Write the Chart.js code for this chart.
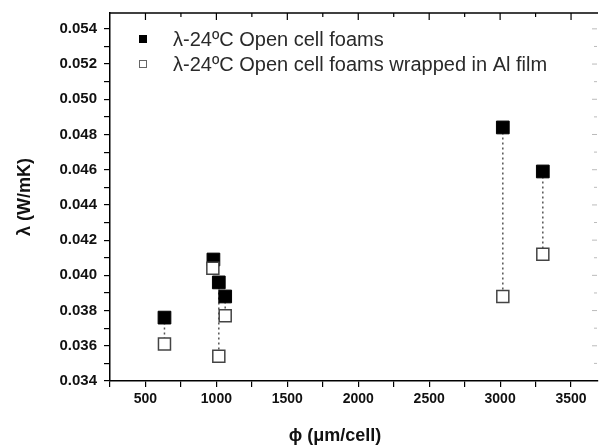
<!DOCTYPE html>
<html>
<head>
<meta charset="utf-8">
<script src="https://cdn.jsdelivr.net/npm/chart.js@4"></script>
<style>
  html, body { margin: 0; padding: 0; background: #fff; }
  #wrap { width: 599px; height: 448px; }
</style>
</head>
<body>
<div id="wrap"><canvas id="foamChart" width="599" height="448"></canvas></div>
<script>
// cell size (um/cell) and conductivity (W/mK)
const openX = [634, 979, 1017, 1062, 3019, 3301];
const openY = [0.0376, 0.0409, 0.0396, 0.0388, 0.0484, 0.0459];
const wrappedX = [634, 975, 1017, 1062, 3019, 3301];
const wrappedY = [0.0361, 0.0404, 0.0354, 0.0377, 0.0388, 0.0412];
// which pairs get the dotted link between them
const linkedPairs = [0, 2, 3, 4, 5];

const seriesNames = ['\u03bb-24\u00baC Open cell foams', '\u03bb-24\u00baC Open cell foams wrapped in Al film'];
const xTitle = '\u03d5 (\u03bcm/cell)';
const yTitle = '\u03bb (W/mK)';

const font = 'Liberation Sans, Arial, sans-serif';

const datasets = [
    {
        label: seriesNames[1],
        data: wrappedX.map((x, i) => ({ x: x, y: wrappedY[i] })),
        showLine: false,
        pointStyle: 'rect',
        pointRadius: 8.5,
        pointBackgroundColor: '#fff',
        pointBorderColor: '#444',
        pointBorderWidth: 1.5,
        order: 0
    },
    {
        label: seriesNames[0],
        data: openX.map((x, i) => ({ x: x, y: openY[i] })),
        showLine: false,
        pointStyle: 'rect',
        pointRadius: 9,
        pointBackgroundColor: '#000',
        pointBorderColor: '#000',
        pointBorderWidth: 1,
        order: 1
    }
];
linkedPairs.forEach(i => {
    datasets.push({
        label: 'link',
        data: [{ x: openX[i], y: openY[i] }, { x: openX[i], y: wrappedY[i] }],
        showLine: true,
        borderColor: '#555',
        borderWidth: 1.5,
        borderDash: [2, 3],
        pointRadius: 0,
        order: 2
    });
});

// frame on top/right, legend and x title
const framePlugin = {
    id: 'frame',
    afterDraw(chart) {
        const ctx = chart.ctx;
        const a = chart.chartArea;
        const xs = chart.scales.x;
        const ys = chart.scales.y;
        ctx.save();
        ctx.strokeStyle = '#000';
        ctx.lineWidth = 1.5;
        ctx.beginPath();
        ctx.moveTo(a.left, a.top);
        ctx.lineTo(a.right, a.top);
        ctx.stroke();
        ctx.lineWidth = 1.2;
        for (let v = 500; v <= 3500; v += 250) {
            const px = xs.getPixelForValue(v);
            ctx.beginPath();
            ctx.moveTo(px, a.top);
            ctx.lineTo(px, a.top + (v % 500 === 0 ? 7 : 4));
            ctx.stroke();
        }
        // faint right axis ticks
        ctx.strokeStyle = '#bbb';
        ctx.lineWidth = 1;
        for (let k = 35; k <= 54; k++) {
            const py = ys.getPixelForValue(k / 1000);
            ctx.beginPath();
            ctx.moveTo(a.right - 1, py);
            ctx.lineTo(a.right - 1 - (k % 2 === 0 ? 5 : 3), py);
            ctx.stroke();
        }

        // legend
        const lx = a.left + 33, ly = [39, 64];
        ctx.fillStyle = '#000';
        ctx.fillRect(lx - 4, ly[0] - 4, 8, 8);
        ctx.fillStyle = '#fff';
        ctx.strokeStyle = '#666';
        ctx.lineWidth = 1;
        ctx.fillRect(lx - 4, ly[1] - 4, 8, 8);
        ctx.strokeRect(lx - 3.5, ly[1] - 3.5, 7, 7);
        ctx.font = '20px ' + font;
        ctx.textBaseline = 'middle';
        ctx.fillStyle = '#2a2a2a';
        ctx.textAlign = 'left';
        ctx.fillText(seriesNames[0], 173, ly[0] + 1);
        ctx.fillText(seriesNames[1], 173, ly[1] + 1);

        // x axis title
        ctx.font = 'bold 18px ' + font;
        ctx.textAlign = 'center';
        ctx.fillStyle = '#111';
        ctx.fillText(xTitle, 335, 436);
        ctx.restore();
    }
};

const chart = new Chart(document.getElementById('foamChart').getContext('2d'), {
    type: 'scatter',
    data: { datasets: datasets },
    options: {
        responsive: false,
        animation: false,
        layout: { autoPadding: false, padding: { left: 0, right: 1, top: 13, bottom: 0 } },
        plugins: {
            legend: { display: false },
            tooltip: { enabled: false }
        },
        scales: {
            x: {
                type: 'linear',
                min: 250,
                max: 3690,
                afterBuildTicks(scale) {
                    const t = [];
                    for (let v = 250; v <= 3500; v += 250) t.push({ value: v });
                    scale.ticks = t;
                },
                afterFit(scale) {
                    scale.height = 67;
                    scale.paddingRight = 0;
                    scale.paddingLeft = 0;
                },
                border: { color: '#000', width: 1.5 },
                grid: {
                    drawOnChartArea: false,
                    color: '#000',
                    lineWidth: 1.2,
                    tickLength: 6
                },
                ticks: {
                    autoSkip: false,
                    maxRotation: 0,
                    padding: 4,
                    color: '#111',
                    font: { family: font, size: 14, weight: 'bold' },
                    callback: v => (v % 500 === 0 ? String(v) : '')
                }
            },
            y: {
                type: 'linear',
                min: 0.034,
                max: 0.0549,
                afterBuildTicks(scale) {
                    const t = [];
                    for (let k = 34; k <= 54; k++) t.push({ value: k / 1000 });
                    scale.ticks = t;
                },
                afterFit(scale) {
                    scale.width = 110;
                    scale.paddingTop = 0;
                    scale.paddingBottom = 0;
                },
                border: { color: '#000', width: 1.5 },
                grid: {
                    drawOnChartArea: false,
                    color: '#000',
                    lineWidth: 1.2,
                    tickLength: 6
                },
                title: {
                    display: true,
                    text: yTitle,
                    color: '#111',
                    font: { family: font, size: 18, weight: 'bold' },
                    padding: { top: 14, bottom: 0 }
                },
                ticks: {
                    autoSkip: false,
                    padding: 7,
                    color: '#111',
                    font: { family: font, size: 15, weight: 'bold' },
                    callback: v => {
                        const k = Math.round(v * 1000);
                        return k % 2 === 0 ? (k / 1000).toFixed(3) : '';
                    }
                }
            }
        }
    },
    plugins: [framePlugin]
});
</script>
</body>
</html>
